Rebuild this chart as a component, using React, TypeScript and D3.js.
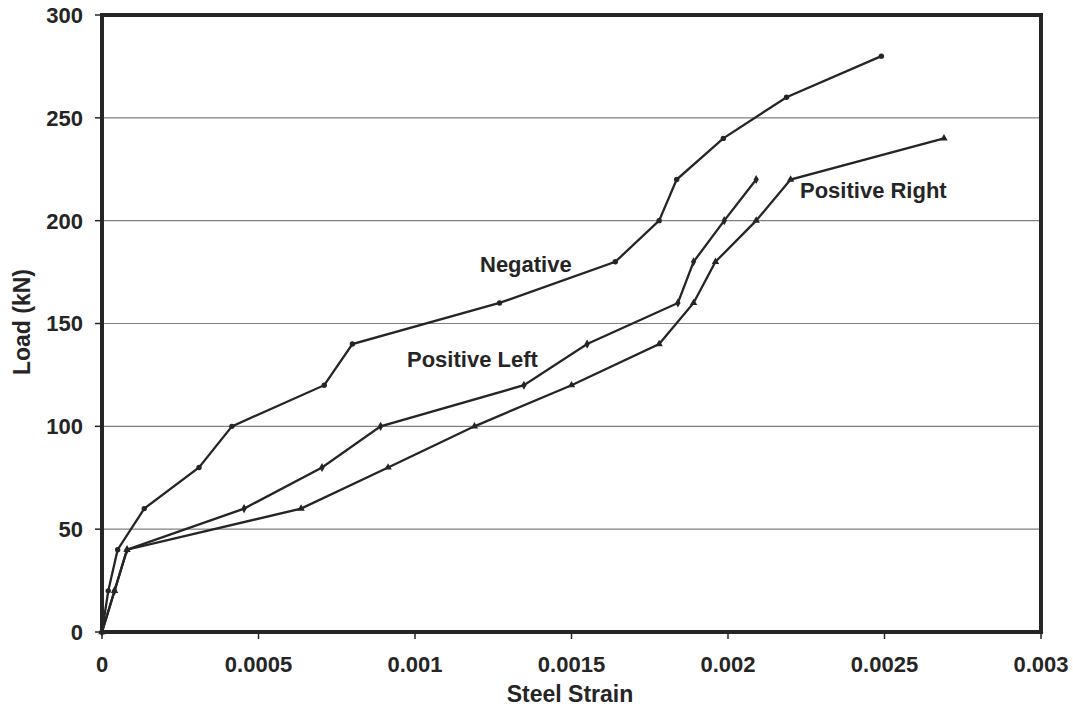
import React from "react";
import * as d3 from "d3";

const W = 1073;
const H = 712;

const xTicks = [0, 0.0005, 0.001, 0.0015, 0.002, 0.0025, 0.003];
const xTickLabels = ["0", "0.0005", "0.001", "0.0015", "0.002", "0.0025", "0.003"];
const yTicks = [0, 50, 100, 150, 200, 250, 300];

const negStrain = [0, 0.00002, 0.00005, 0.000135, 0.00031, 0.000415, 0.00071, 0.0008, 0.00127, 0.00164, 0.00178, 0.001836, 0.001985, 0.002187, 0.00249];
const negLoad = [0, 20, 40, 60, 80, 100, 120, 140, 160, 180, 200, 220, 240, 260, 280];

const leftStrain = [0, 0.00004, 0.00008, 0.000454, 0.000703, 0.00089, 0.001348, 0.00155, 0.00184, 0.00189, 0.001988, 0.00209];
const leftLoad = [0, 20, 40, 60, 80, 100, 120, 140, 160, 180, 200, 220];

const rightStrain = [0, 0.00004, 0.00008, 0.000636, 0.000914, 0.00119, 0.0015, 0.00178, 0.00189, 0.00196, 0.00209, 0.0022, 0.00269];
const rightLoad = [0, 20, 40, 60, 80, 100, 120, 140, 160, 180, 200, 220, 240];

const seriesNames = ["Negative", "Positive Left", "Positive Right"];

export default function App() {
  const left = 102, right = 1041, top = 15, bottom = 632;
  const x = d3.scaleLinear().domain([0, 0.003]).range([left, right]);
  const y = d3.scaleLinear().domain([0, 300]).range([bottom, top]);
  const line = d3.line<[number, number]>().x((d) => x(d[0])).y((d) => y(d[1]));

  const neg: [number, number][] = negStrain.map((s, i) => [s, negLoad[i]]);
  const pl: [number, number][] = leftStrain.map((s, i) => [s, leftLoad[i]]);
  const pr: [number, number][] = rightStrain.map((s, i) => [s, rightLoad[i]]);

  const font = "'Liberation Sans', Arial, sans-serif";
  const tri = d3.symbol().type(d3.symbolTriangle).size(24)() as string;
  const dia = d3.symbol().type(d3.symbolDiamond).size(24)() as string;
  const ink = "#252525";

  return (
    <svg width={W} height={H} style={{ position: "absolute", left: 0, top: 0, background: "#fff" }} fontFamily={font}>
      <rect x={0} y={0} width={W} height={H} fill="#fff" />
      {yTicks.slice(1, -1).map((t) => (
        <line key={"g" + t} x1={left} x2={right} y1={y(t)} y2={y(t)} stroke="#808080" strokeWidth={1.2} />
      ))}
      {yTicks.map((t) => (
        <g key={"yt" + t}>
          <line x1={left - 7} x2={left} y1={y(t)} y2={y(t)} stroke={ink} strokeWidth={1.5} />
          <text x={83} y={y(t)} dy="0.36em" textAnchor="end" fontSize={22} fontWeight="bold" fill={ink}>{t}</text>
        </g>
      ))}
      {xTicks.map((t, i) => (
        <g key={"xt" + t}>
          <line x1={x(t)} x2={x(t)} y1={bottom} y2={bottom + 7} stroke={ink} strokeWidth={1.5} />
          <text x={x(t)} y={672} textAnchor="middle" fontSize={22} fontWeight="bold" fill={ink}>{xTickLabels[i]}</text>
        </g>
      ))}
      <path d={line(neg) as string} fill="none" stroke={ink} strokeWidth={2.3} />
      <path d={line(pl) as string} fill="none" stroke={ink} strokeWidth={2.3} />
      <path d={line(pr) as string} fill="none" stroke={ink} strokeWidth={2.3} />
      {neg.map((d, i) => (
        <circle key={"n" + i} cx={x(d[0])} cy={y(d[1])} r={2.7} fill={ink} />
      ))}
      {pl.map((d, i) => (
        <path key={"l" + i} d={dia} transform={`translate(${x(d[0])},${y(d[1])})`} fill={ink} />
      ))}
      {pr.map((d, i) => (
        <path key={"r" + i} d={tri} transform={`translate(${x(d[0])},${y(d[1])})`} fill={ink} />
      ))}
      <rect x={left} y={top} width={right - left} height={bottom - top} fill="none" stroke={ink} strokeWidth={4} />
      <text x={480} y={272} fontSize={22} fontWeight="bold" fill={ink}>{seriesNames[0]}</text>
      <text x={407} y={367} fontSize={22} fontWeight="bold" fill={ink}>{seriesNames[1]}</text>
      <text x={800} y={198} fontSize={22} fontWeight="bold" fill={ink}>{seriesNames[2]}</text>
      <text x={570} y={702} textAnchor="middle" fontSize={23} fontWeight="bold" fill={ink}>Steel Strain</text>
      <text transform={`translate(30,${322}) rotate(-90)`} textAnchor="middle" fontSize={23} fontWeight="bold" fill={ink}>Load (kN)</text>
    </svg>
  );
}
